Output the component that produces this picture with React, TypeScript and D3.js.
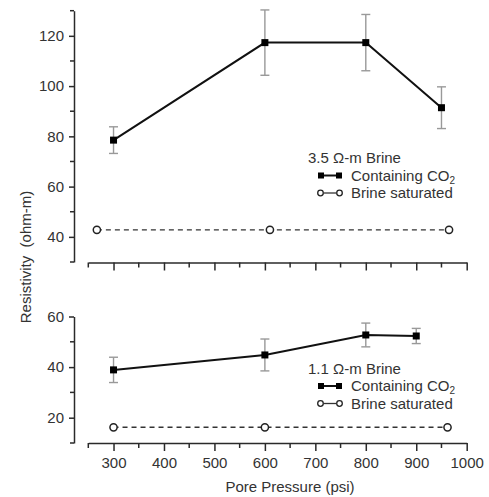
import React, { useEffect, useRef } from 'react';
import * as d3 from 'd3';

// pore pressure (psi) and resistivity (ohm-m)
const topCo2Pressure = [300, 600, 800, 950];
const topCo2Value = [78.5, 117.3, 117.3, 91.4];
const topCo2Err = [5.3, 13, 11.2, 8.3];
const topBrinePressure = [267, 610, 965];
const topBrineValue = [42.8, 42.8, 42.8];

const botCo2Pressure = [300, 600, 800, 900];
const botCo2Value = [38.9, 44.8, 52.7, 52.3];
const botCo2Err = [5, 6.3, 4.7, 3];
const botBrinePressure = [300, 600, 962];
const botBrineValue = [16.2, 16.2, 16.2];

const xTickValues = [300, 400, 500, 600, 700, 800, 900, 1000];
const topYTicks = [40, 60, 80, 100, 120];
const botYTicks = [20, 40, 60];

const App = () => {
  const svgRef = useRef<SVGSVGElement>(null);

  useEffect(() => {
    const svg = d3.select(svgRef.current);
    svg.selectAll('*').remove();

    const font = 'Liberation Sans, Arial, Helvetica, sans-serif';
    const fs = 15;
    const axisColor = '#2a2a2a';
    const textColor = '#333';

    const x = d3.scaleLinear().domain([250, 1000]).range([88.3, 466.7]);

    const panels = [
      {
        y: d3.scaleLinear().domain([30, 130]).range([262, 10.7]),
        yTicks: topYTicks, yMinor: [30, 50, 70, 90, 110, 130],
        xAxisY: 262.5, labels: false,
        co2: topCo2Pressure.map((p, i) => ({ p, v: topCo2Value[i], e: topCo2Err[i] })),
        brine: topBrinePressure.map((p, i) => ({ p, v: topBrineValue[i] })),
        legendTitle: '3.5 Ω-m Brine', legendY: 163,
      },
      {
        y: d3.scaleLinear().domain([10, 60]).range([443, 316.5]),
        yTicks: botYTicks, yMinor: [10, 30, 50],
        xAxisY: 443, labels: true,
        co2: botCo2Pressure.map((p, i) => ({ p, v: botCo2Value[i], e: botCo2Err[i] })),
        brine: botBrinePressure.map((p, i) => ({ p, v: botBrineValue[i] })),
        legendTitle: '1.1 Ω-m Brine', legendY: 373.5,
      },
    ];

    const xMinor = d3.range(250, 1001, 50).filter(v => v % 100 !== 0);

    panels.forEach(pn => {
      const g = svg.append('g');
      const y = pn.y;

      // y axis
      const yAxis = g.append('g').attr('transform', 'translate(74,0)');
      yAxis.call(d3.axisLeft(y).tickValues(pn.yTicks).tickSize(5).tickSizeOuter(0).tickPadding(5));
      yAxis.append('g').selectAll('line').data(pn.yMinor).enter().append('line')
        .attr('x1', -4).attr('x2', 0).attr('y1', d => y(d)).attr('y2', d => y(d));
      yAxis.selectAll('line').attr('stroke', axisColor).attr('stroke-width', 1.5);
      yAxis.select('.domain').attr('stroke', axisColor).attr('stroke-width', 1.5);
      yAxis.selectAll('text').attr('font-family', font).attr('font-size', fs).attr('fill', textColor);

      // x axis
      const xAxis = g.append('g').attr('transform', `translate(0,${pn.xAxisY})`);
      xAxis.call(d3.axisBottom(x).tickValues(xTickValues).tickSize(8).tickSizeOuter(0).tickPadding(6)
        .tickFormat(pn.labels ? d3.format('d') : () => ''));
      xAxis.append('g').selectAll('line').data(xMinor).enter().append('line')
        .attr('x1', d => x(d)).attr('x2', d => x(d)).attr('y1', 0).attr('y2', 5);
      xAxis.selectAll('line').attr('stroke', axisColor).attr('stroke-width', 1.5);
      xAxis.select('.domain').attr('stroke', axisColor).attr('stroke-width', 1.5);
      xAxis.selectAll('text').attr('font-family', font).attr('font-size', fs).attr('fill', textColor);

      // brine saturated dashed line
      const line = d3.line<{ p: number; v: number }>().x(d => x(d.p)).y(d => y(d.v));
      g.append('path').datum(pn.brine).attr('d', line).attr('fill', 'none')
        .attr('stroke', '#333').attr('stroke-width', 1.4).attr('stroke-dasharray', '5,4');
      g.selectAll('.brine').data(pn.brine).enter().append('circle')
        .attr('cx', d => x(d.p)).attr('cy', d => y(d.v)).attr('r', 3.6)
        .attr('fill', '#fff').attr('stroke', '#222').attr('stroke-width', 1.5);

      // error bars
      const eb = g.append('g').attr('stroke', '#999').attr('stroke-width', 1.4);
      pn.co2.forEach(d => {
        const cx = x(d.p);
        eb.append('line').attr('x1', cx).attr('x2', cx).attr('y1', y(d.v + d.e)).attr('y2', y(d.v - d.e));
        [d.v + d.e, d.v - d.e].forEach(v => {
          eb.append('line').attr('x1', cx - 4.5).attr('x2', cx + 4.5).attr('y1', y(v)).attr('y2', y(v));
        });
      });

      // containing CO2 line
      g.append('path').datum(pn.co2).attr('d', line).attr('fill', 'none')
        .attr('stroke', '#111').attr('stroke-width', 2);
      g.selectAll('.co2').data(pn.co2).enter().append('rect')
        .attr('x', d => x(d.p) - 3.5).attr('y', d => y(d.v) - 3.5)
        .attr('width', 7).attr('height', 7).attr('fill', '#000');

      // legend
      const lg = g.append('g').attr('font-family', font).attr('font-size', fs).attr('fill', textColor);
      lg.append('text').attr('x', 308).attr('y', pn.legendY).text(pn.legendTitle);
      const r2 = pn.legendY + 17.5;
      const r3 = pn.legendY + 35;
      lg.append('line').attr('x1', 321).attr('x2', 339).attr('y1', r2 - 5).attr('y2', r2 - 5)
        .attr('stroke', '#111').attr('stroke-width', 2);
      [321, 339].forEach(cx => lg.append('rect').attr('x', cx - 3).attr('y', r2 - 8)
        .attr('width', 6).attr('height', 6).attr('fill', '#000'));
      const t2 = lg.append('text').attr('x', 351).attr('y', r2);
      t2.append('tspan').text('Containing CO');
      t2.append('tspan').attr('font-size', 10).attr('dy', 3).text('2');
      lg.append('line').attr('x1', 324).attr('x2', 336).attr('y1', r3 - 5).attr('y2', r3 - 5)
        .attr('stroke', '#333').attr('stroke-width', 1.3);
      [320.5, 339.5].forEach(cx => lg.append('circle').attr('cx', cx).attr('cy', r3 - 5).attr('r', 2.8)
        .attr('fill', '#fff').attr('stroke', '#222').attr('stroke-width', 1.3));
      lg.append('text').attr('x', 351).attr('y', r3).text('Brine saturated');
    });

    // axis titles
    svg.append('text').attr('transform', 'translate(31,257) rotate(-90)')
      .attr('text-anchor', 'middle').attr('font-family', font)
      .attr('font-size', fs).attr('fill', textColor).attr('xml:space', 'preserve')
      .text('Resistivity  (ohm-m)');
    svg.append('text').attr('x', 290).attr('y', 492)
      .attr('text-anchor', 'middle').attr('font-family', font)
      .attr('font-size', fs).attr('fill', textColor)
      .text('Pore Pressure (psi)');
  }, []);

  return (
    <svg ref={svgRef} width={489} height={497}
      style={{ position: 'absolute', left: 0, top: 0, background: '#fff' }} />
  );
};

export default App;
